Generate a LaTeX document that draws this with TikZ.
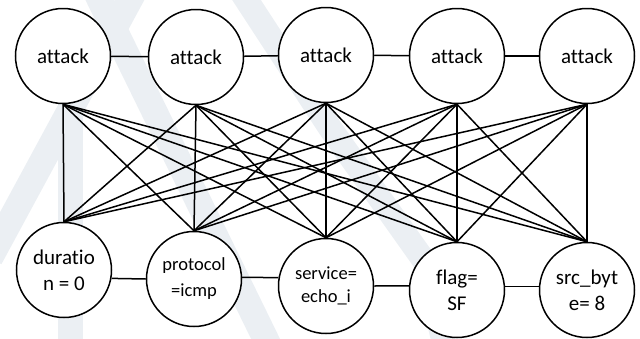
\documentclass[tikz,border=0pt]{standalone}
\usepackage{fontspec}
\setmainfont{Carlito}[Ligatures={NoCommon}]
\definecolor{wm}{HTML}{EBEFF3}
\tikzset{
  state/.style={circle, draw=black, line width=1.5pt, fill=white,
    minimum size=95pt, inner sep=0pt, align=center,
    font=\fontsize{21}{26}\selectfont},
  small/.style={font=\fontsize{18.5}{26}\selectfont},
  link/.style={line width=1.5pt, black},
  band/.style={wm, line width=26pt, line cap=butt}
}
\begin{document}
\begin{tikzpicture}[x=1pt, y=-1pt]
\useasboundingbox (0,0) rectangle (640,338);
% faint background logo
\begin{scope}
  \clip (0,0) rectangle (640,338);
  \draw[band] (-10,258) -- (135,-10);
  \draw[band] (95,-10) -- (270,348);
  \draw[band, line width=25pt] (70,100) -- (70,348);
  \draw[band, line width=24pt] (240,-10) -- (330,128) -- (425,262) -- (445,348);
\end{scope}

% upper row
\node[state] (t1) at (63,56)  {attack};
\node[state] (t2) at (196,57) {attack};
\node[state] (t3) at (326,55) {attack};
\node[state] (t4) at (457,56) {attack};
\node[state] (t5) at (587,56) {attack};

% lower row
\node[state] (b1) at (64,270)  {duratio\\n = 0};
\node[state, small] (b2) at (194,279) {protocol\\=icmp};
\node[state, small, font=\fontsize{18.5}{23}\selectfont] (b3) at (326,286) {service=\\echo\_i};
\node[state] (b4) at (457,290) {flag=\\SF};
\node[state] (b5) at (587,290) {src\_byt\\e= 8};

% chains within each row
\draw[link] (t1) -- (t2);
\draw[link] (t2) -- (t3);
\draw[link] (t3) -- (t4);
\draw[link] (t4) -- (t5);
\draw[link] (b1.-10) -- (b2.180);
\draw[link] (b2.2) -- (b3.170);
\draw[link] (b3.0) -- (b4.175);
\draw[link] (b4.4) -- (b5.176);

% every upper node to every lower node
\foreach \i in {1,...,5}
  \foreach \j in {1,...,5}
    \draw[link] (t\i.south) -- (b\j.north);
\end{tikzpicture}
\end{document}
